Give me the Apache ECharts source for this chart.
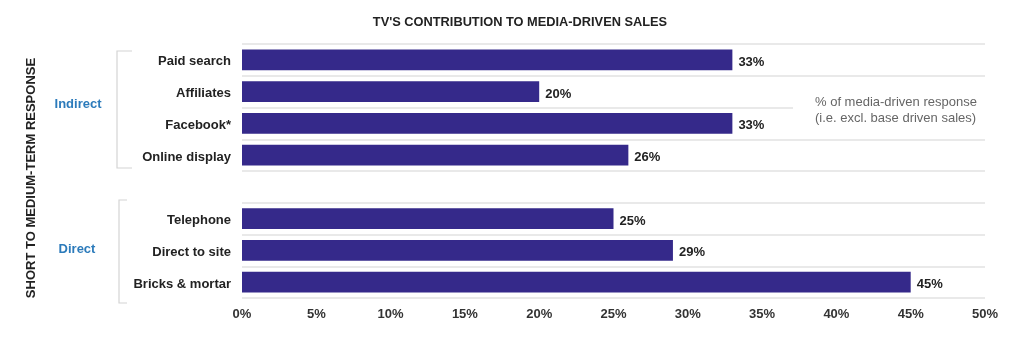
<!DOCTYPE html>
<html>
<head>
<meta charset="utf-8">
<script src="https://cdn.jsdelivr.net/npm/echarts@6/dist/echarts.min.js"></script>
<style>
html,body{margin:0;padding:0;background:#fff;}
#chart{width:1024px;height:347px;}
</style>
</head>
<body>
<div id="chart"></div>
<script>
const titleText = "TV'S CONTRIBUTION TO MEDIA-DRIVEN SALES";
const categories = ['Paid search', 'Affiliates', 'Facebook*', 'Online display', '', 'Telephone', 'Direct to site', 'Bricks & mortar'];
const values = [33, 20, 33, 26, null, 25, 29, 45];
const groupLabels = ['Indirect', 'Direct'];
const sideTitle = 'SHORT TO MEDIUM-TERM RESPONSE';
const noteLines = ['% of media-driven response', '(i.e. excl. base driven sales)'];
const xMin = 0, xMax = 50, xStep = 5;

const FONT = '"Liberation Sans", Arial, sans-serif';
const chart = echarts.init(document.getElementById('chart'), null, {renderer: 'canvas'});

chart.setOption({
  animation: false,
  backgroundColor: '#fff',
  title: {
    text: titleText, left: 515, top: 11, textAlign: 'center',
    textStyle: {fontFamily: FONT, fontSize: 12.8, fontWeight: 'bold', color: '#222'}
  },
  grid: {left: 242, right: 39, top: 44, bottom: 49},
  xAxis: {
    type: 'value', min: xMin, max: xMax, interval: xStep,
    axisLine: {show: false}, axisTick: {show: false}, splitLine: {show: false},
    axisLabel: {formatter: '{value}%', margin: 10, fontFamily: FONT, fontSize: 13, fontWeight: 'bold', color: '#333'}
  },
  yAxis: {
    type: 'category', data: categories, inverse: true,
    axisLine: {show: false}, axisTick: {show: false},
    splitLine: {show: true, lineStyle: {color: '#e2e2e2', width: 1.5}},
    axisLabel: {
      margin: 11,
      formatter: function (v) { return v ? '{a|' + v + '}' : ''; },
      rich: {a: {padding: [4, 0, 0, 0], fontFamily: FONT, fontSize: 13, fontWeight: 'bold', color: '#222'}}
    }
  },
  series: [{
    type: 'bar', data: values, barWidth: '65%',
    itemStyle: {color: '#35298a'},
    label: {show: true, position: 'right', distance: 6, offset: [0, 2.5], formatter: '{c}%',
      fontFamily: FONT, fontSize: 13, fontWeight: 'bold', color: '#222'}
  }],
  graphic: [
    {type: 'rect', x: 793, y: 104, z: 100, shape: {x: 0, y: 0, width: 200, height: 8}, style: {fill: '#fff'}},
    {type: 'text', x: 815, y: 94, z: 101, style: {text: noteLines.join('\n'), font: '13px ' + FONT, fill: '#666', lineHeight: 16, textAlign: 'left'}},
    {type: 'text', x: 31, y: 178, rotation: Math.PI / 2, z: 101,
      style: {text: sideTitle, font: 'bold 13px ' + FONT, fill: '#222', textAlign: 'center', textVerticalAlign: 'middle'}},
    {type: 'text', x: 78, y: 104, z: 101,
      style: {text: groupLabels[0], font: 'bold 13px ' + FONT, fill: '#2c7bbb', textAlign: 'center', textVerticalAlign: 'middle'}},
    {type: 'text', x: 77, y: 249, z: 101,
      style: {text: groupLabels[1], font: 'bold 13px ' + FONT, fill: '#2c7bbb', textAlign: 'center', textVerticalAlign: 'middle'}},
    {type: 'polyline', z: 101, shape: {points: [[132, 51], [117, 51], [117, 168], [132, 168]]},
      style: {fill: null, stroke: '#d4d4d4', lineWidth: 1.2}},
    {type: 'polyline', z: 101, shape: {points: [[127, 200], [119, 200], [119, 303], [127, 303]]},
      style: {fill: null, stroke: '#d4d4d4', lineWidth: 1.2}}
  ]
});
</script>
</body>
</html>
